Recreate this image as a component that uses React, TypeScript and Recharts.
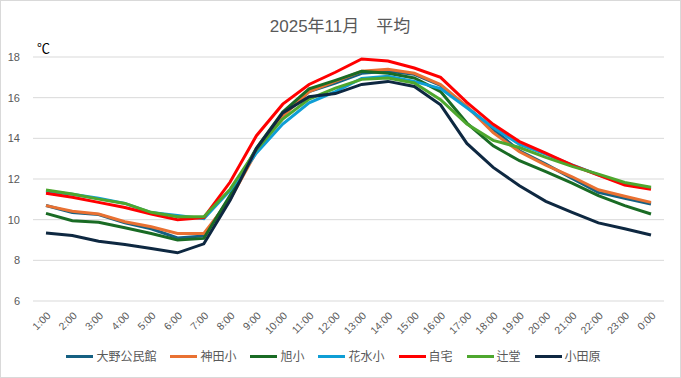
import { LineChart, Line, XAxis, YAxis, CartesianGrid } from 'recharts';

const hours = ['1:00', '2:00', '3:00', '4:00', '5:00', '6:00', '7:00', '8:00', '9:00', '10:00', '11:00', '12:00',
    '13:00', '14:00', '15:00', '16:00', '17:00', '18:00', '19:00', '20:00', '21:00', '22:00', '23:00', '0:00'];

const yTicks = [6, 8, 10, 12, 14, 16, 18];

// 2025年11月 hourly averages (℃)
const ono = [10.7, 10.35, 10.25, 9.85, 9.55, 9.1, 9.2, 11.1, 13.4, 15.15, 16.3, 16.72,
    17.2, 17.3, 17.15, 16.6, 15.55, 14.45, 13.39, 12.73, 12.03, 11.34, 11.05, 10.77];
const kanda = [10.69, 10.41, 10.28, 9.9, 9.65, 9.32, 9.32, 11.0, 13.35, 15.08, 16.3, 16.8,
    17.3, 17.4, 17.2, 16.64, 15.57, 14.28, 13.34, 12.68, 12.11, 11.47, 11.15, 10.85];
const asahi = [10.31, 9.95, 9.87, 9.6, 9.32, 9.0, 9.08, 11.2, 13.52, 15.3, 16.43, 16.85,
    17.3, 17.2, 16.97, 16.3, 14.75, 13.63, 12.9, 12.36, 11.8, 11.18, 10.69, 10.28];
const hanamizu = [11.4, 11.25, 11.05, 10.8, 10.35, 10.2, 10.05, 11.45, 13.28, 14.7, 15.75, 16.3,
    16.95, 17.05, 16.8, 16.45, 15.5, 14.53, 13.7, 13.22, 12.7, 12.2, 11.75, 11.55];
const home = [11.3, 11.1, 10.85, 10.6, 10.28, 10.0, 10.1, 11.85, 14.13, 15.68, 16.65, 17.25,
    17.9, 17.8, 17.46, 17.0, 15.77, 14.69, 13.84, 13.27, 12.68, 12.19, 11.7, 11.5];
const tsujido = [11.46, 11.26, 11.01, 10.8, 10.36, 10.14, 10.14, 11.5, 13.44, 14.95, 15.93, 16.47,
    16.9, 16.97, 16.72, 15.9, 14.7, 13.9, 13.55, 13.06, 12.62, 12.24, 11.83, 11.59];
const odawara = [9.35, 9.22, 8.94, 8.78, 8.58, 8.37, 8.81, 10.95, 13.5, 15.25, 16.05, 16.2,
    16.65, 16.8, 16.55, 15.65, 13.75, 12.57, 11.67, 10.9, 10.36, 9.84, 9.55, 9.25];

const SERIES = [
    { key: 'ono', name: '大野公民館', color: '#156082', values: ono },
    { key: 'kanda', name: '神田小', color: '#E97132', values: kanda },
    { key: 'asahi', name: '旭小', color: '#196B24', values: asahi },
    { key: 'hanamizu', name: '花水小', color: '#0F9ED5', values: hanamizu },
    { key: 'home', name: '自宅', color: '#FF0000', values: home },
    { key: 'tsujido', name: '辻堂', color: '#4EA72E', values: tsujido },
    { key: 'odawara', name: '小田原', color: '#0E2841', values: odawara },
];

const data = hours.map((hour, i) => {
    const row: Record<string, string | number> = { hour };
    SERIES.forEach(s => { row[s.key] = s.values[i]; });
    return row;
});

const FONT = '"Liberation Sans", "Noto Sans CJK JP", sans-serif';
const JP_FONT = '"Noto Sans CJK JP", sans-serif';

export default function App() {
    return (
        <div style={{ position: 'absolute', left: 0, top: 0, width: 681, height: 378, background: '#fff', fontFamily: FONT }}>
            <LineChart width={681} height={378} data={data} margin={{ top: 57, right: 17, left: 0, bottom: 29 }}>
                <CartesianGrid vertical={false} stroke="#D9D9D9" />
                <XAxis
                    dataKey="hour"
                    interval={0}
                    angle={-45}
                    textAnchor="end"
                    height={48}
                    tickLine={false}
                    axisLine={false}
                    tickMargin={4}
                    padding={{ left: 13, right: 13 }}
                    tick={{ fontSize: 10.5, fill: '#595959', fontFamily: FONT }}
                />
                <YAxis
                    width={33}
                    domain={[6, 18]}
                    ticks={yTicks}
                    tickLine={false}
                    axisLine={false}
                    tickMargin={7}
                    tick={{ fontSize: 11, fill: '#595959', fontFamily: FONT }}
                />
                {SERIES.map(s => (
                    <Line
                        key={s.key}
                        dataKey={s.key}
                        name={s.name}
                        type="linear"
                        stroke={s.color}
                        strokeWidth={3}
                        dot={false}
                        isAnimationActive={false}
                    />
                ))}
            </LineChart>

            <svg width={681} height={378} style={{ position: 'absolute', left: 0, top: 0, pointerEvents: 'none' }}>
                <text x={340} y={32} textAnchor="middle" fontSize={17} fill="#595959" fontFamily={FONT}>2025年11月　平均</text>
                <text x={37} y={53} fontSize={13} fill="#000" fontFamily={JP_FONT}>℃</text>
            </svg>

            <div style={{
                position: 'absolute', left: 0, top: 347, width: 681, height: 18,
                display: 'flex', justifyContent: 'center', alignItems: 'center',
            }}>
                {SERIES.map(s => (
                    <div key={s.key} style={{ display: 'flex', alignItems: 'center', marginRight: 14 }}>
                        <span style={{ display: 'inline-block', width: 27, height: 3, background: s.color, marginRight: 3 }} />
                        <span style={{ fontSize: 12, color: '#595959', fontFamily: JP_FONT, lineHeight: '18px' }}>{s.name}</span>
                    </div>
                ))}
            </div>

            <div style={{ position: 'absolute', left: 0, top: 0, width: 681, height: 378, boxSizing: 'border-box', border: '1px solid #D9D9D9', pointerEvents: 'none' }} />
        </div>
    );
}
